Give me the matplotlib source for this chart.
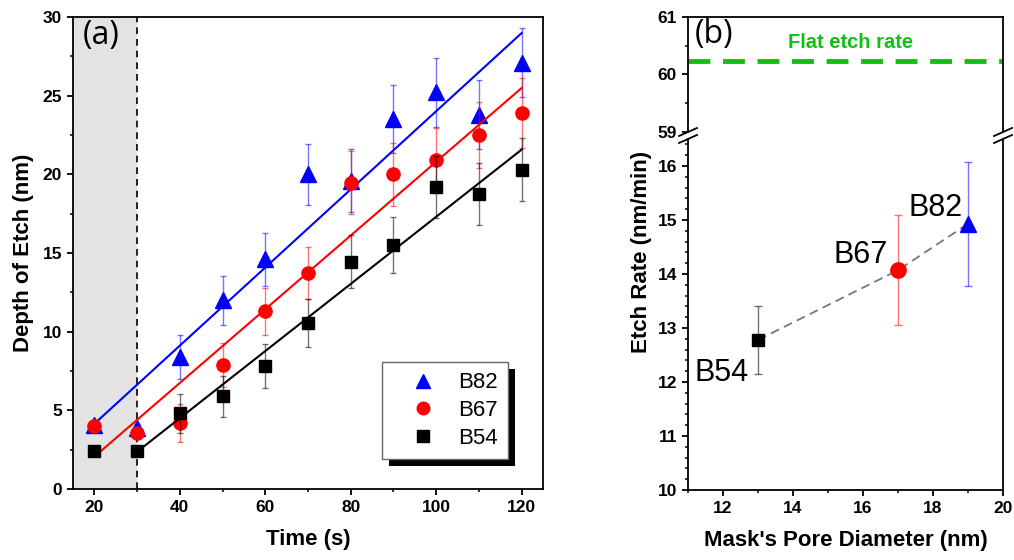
import numpy as np
import matplotlib
import matplotlib.pyplot as plt
from matplotlib.patches import Rectangle
from matplotlib.ticker import MultipleLocator

matplotlib.use("Agg")

plt.rcParams['font.family'] = ['Liberation Sans', 'DejaVu Sans']

# etch depth vs time for the three masks
time_s = [20, 30, 40, 50, 60, 70, 80, 90, 100, 110, 120]
depth_b82 = [4.07, 3.9, 8.4, 12.0, 14.6, 20.0, 19.6, 23.5, 25.2, 23.8, 27.1]
err_b82 = [0.2, 0.2, 1.4, 1.55, 1.7, 1.95, 2.0, 2.15, 2.2, 2.2, 2.2]
depth_b67 = [4.0, 3.55, 4.2, 7.9, 11.3, 13.75, 19.45, 20.0, 20.9, 22.5, 23.9]
err_b67 = [0.15, 0.15, 1.2, 1.4, 1.5, 1.65, 2.0, 2.0, 2.05, 2.1, 2.2]
depth_b54 = [2.42, 2.42, 4.8, 5.9, 7.8, 10.55, 14.45, 15.5, 19.2, 18.75, 20.3]
err_b54 = [0.1, 0.1, 1.25, 1.3, 1.4, 1.55, 1.7, 1.8, 1.95, 1.95, 2.0]

# etch rate vs pore diameter
pore_nm = [13, 17, 19]
rate_nm_min = [12.78, 14.07, 14.93]
rate_err = [0.63, 1.02, 1.15]
rate_names = ["B54", "B67", "B82"]
flat_rate = 60.23

BLUE, RED, BLACK = "#0000ff", "#ff0000", "#000000"
GREEN = "#11c011"
TICK_FS = 12.5
LABEL_FS = 16


def style_axes(ax):
    for sp in ax.spines.values():
        sp.set_linewidth(1.3)
    ax.tick_params(which="major", direction="out", length=4.5, width=1.3,
                   labelsize=TICK_FS, top=False, right=False)
    ax.tick_params(which="minor", direction="out", length=2.5, width=1.1,
                   top=False, right=False)


def bold_ticks(ax):
    for lbl in ax.get_xticklabels() + ax.get_yticklabels():
        lbl.set_fontweight("bold")


fig = plt.figure(figsize=(10.14, 5.6), dpi=100)

# ---- (a) depth of etch ----
ax = fig.add_axes([0.0720, 0.1268, 0.4635, 0.8429])
ax.set_xlim(15, 125)
ax.set_ylim(0, 30)
ax.axvspan(15, 30, color="#e3e3e3", zorder=0, lw=0)
ax.axvline(30, color="k", lw=1.2, ls=(0, (4, 3)), zorder=1)

series = [
    ("B82", depth_b82, err_b82, BLUE, "^", 11, 20),
    ("B67", depth_b67, err_b67, RED, "o", 9.5, 20),
    ("B54", depth_b54, err_b54, BLACK, "s", 8.5, 30),
]
t = np.array(time_s)
for i, (name, depth, err, col, mk, ms, t0) in enumerate(series):
    ax.errorbar(time_s, depth, yerr=err, fmt="none", ecolor=col, alpha=0.55,
                elinewidth=1, capsize=2.5, capthick=1, zorder=2 + i)
    ax.plot(time_s, depth, ls="none", marker=mk, ms=ms, color=col,
            label=name, zorder=3 + i)
    # linear fit over the etching window
    sel = t >= t0
    k, b = np.polyfit(t[sel], np.array(depth)[sel], 1)
    xs = np.array([t0, 120])
    ax.plot(xs, k * xs + b, color=col, lw=1.5, zorder=3 + i)

ax.xaxis.set_major_locator(MultipleLocator(20))
ax.xaxis.set_minor_locator(MultipleLocator(10))
ax.yaxis.set_major_locator(MultipleLocator(5))
ax.yaxis.set_minor_locator(MultipleLocator(2.5))
style_axes(ax)
bold_ticks(ax)
ax.set_xlabel("Time (s)", fontsize=LABEL_FS, fontweight="bold", labelpad=10)
ax.set_ylabel("Depth of Etch (nm)", fontsize=LABEL_FS, fontweight="bold", labelpad=6)
ax.text(0.02, 0.995, "(a)", transform=ax.transAxes, ha="left", va="top",
        fontsize=23, family=["Open Sans", "DejaVu Sans"], zorder=10)

leg = ax.legend(loc="lower left", bbox_to_anchor=(0.657, 0.064),
                borderaxespad=0, fontsize=16, frameon=True, fancybox=False,
                framealpha=1, edgecolor="#666666", handlelength=2.8,
                handletextpad=0.2, labelspacing=0.3, borderpad=0.45,
                markerscale=0.95)
leg.get_frame().set_linewidth(1.0)
leg.set_zorder(20)

# ---- (b) etch rate with broken y axis ----
ax_top = fig.add_axes([0.6785, 0.7643, 0.3107, 0.2054])
ax_bot = fig.add_axes([0.6785, 0.125, 0.3107, 0.6268])

ax_top.set_xlim(11, 20)
ax_top.set_ylim(59, 61)
ax_bot.set_xlim(11, 20)
ax_bot.set_ylim(10, 16.5)

ax_top.axhline(flat_rate, color=GREEN, lw=3.5, ls=(0, (4.5, 2.6)))
ax_top.text(15.63, 60.55, "Flat etch rate", color=GREEN, fontsize=14.5,
            fontweight="bold", ha="center", va="center")
ax_top.text(0.02, 0.99, "(b)", transform=ax_top.transAxes, ha="left", va="top",
            fontsize=23, family=["Open Sans", "DejaVu Sans"])

ax_bot.plot(pore_nm, rate_nm_min, color="#777777", lw=1.3, ls=(0, (5, 3)), zorder=2)
rate_style = [(BLACK, "s", 8.5), (RED, "o", 11), (BLUE, "^", 11.5)]
for x, y, e, (col, mk, ms) in zip(pore_nm, rate_nm_min, rate_err, rate_style):
    ax_bot.errorbar([x], [y], yerr=[e], fmt="none", ecolor=col, alpha=0.55,
                    elinewidth=1, capsize=3, capthick=1, zorder=3)
    ax_bot.plot([x], [y], ls="none", marker=mk, ms=ms, color=col, zorder=4)

label_pos = [(12.72, 12.16), (16.71, 14.35), (18.84, 15.22)]
for name, (lx, ly) in zip(rate_names, label_pos):
    ax_bot.text(lx, ly, name, fontsize=22, ha="right", va="center")

ax_top.spines["bottom"].set_visible(False)
ax_bot.spines["top"].set_visible(False)
ax_top.yaxis.set_major_locator(MultipleLocator(1))
ax_top.yaxis.set_minor_locator(MultipleLocator(0.5))
ax_bot.yaxis.set_major_locator(MultipleLocator(1))
ax_bot.yaxis.set_minor_locator(MultipleLocator(0.2))
ax_bot.xaxis.set_major_locator(MultipleLocator(2))
ax_bot.xaxis.set_minor_locator(MultipleLocator(1))
style_axes(ax_top)
style_axes(ax_bot)
ax_top.tick_params(which="both", bottom=False, labelbottom=False)
bold_ticks(ax_top)
bold_ticks(ax_bot)
ax_bot.set_xlabel("Mask's Pore Diameter (nm)", fontsize=LABEL_FS,
                  fontweight="bold", labelpad=10)
fig.text(0.633, 0.55, "Etch Rate (nm/min)", rotation=90, fontsize=LABEL_FS,
         fontweight="bold", ha="center", va="center")

# break marks on both vertical spines
dx = 9 / 315
for axb, h in ((ax_top, 115), (ax_bot, 351)):
    dy = 4 / h
    y0 = 0 if axb is ax_top else 1
    for x0 in (0, 1):
        axb.plot([x0 - dx, x0 + dx], [y0 - dy, y0 + dy], transform=axb.transAxes,
                 color="k", lw=1.3, clip_on=False, zorder=10)

# solid black drop shadow behind the legend box
fig.canvas.draw()
bb = leg.get_window_extent().transformed(ax.transAxes.inverted())
shadow = Rectangle((bb.x0 + 7 / 470, bb.y0 - 7 / 472), bb.width, bb.height,
                   transform=ax.transAxes, facecolor="k", edgecolor="none",
                   zorder=19, clip_on=False)
ax.add_patch(shadow)

fig.savefig("out.png", dpi=100)
